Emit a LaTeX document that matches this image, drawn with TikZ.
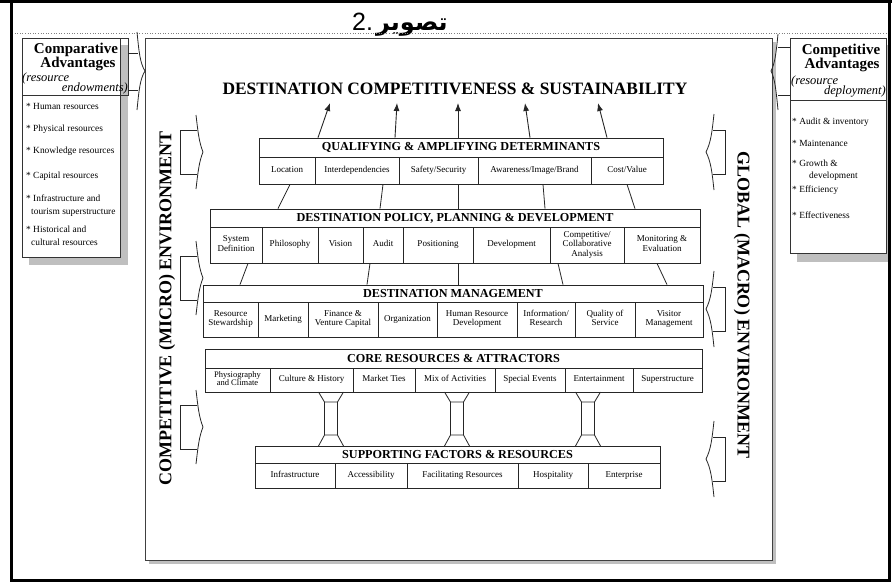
\documentclass[tikz,border=0pt]{standalone}
\usepackage{fontspec}
\setmainfont{Liberation Serif}
\newfontfamily\sansfnt{Liberation Sans}
\newfontfamily\arabicfnt[Script=Arabic]{DejaVu Sans}
\TeXXeTstate=1
\usetikzlibrary{arrows.meta}
\tikzset{
  cell/.style={draw=black!85, line width=0.8pt, inner sep=0pt, align=center, font=\fontsize{9}{9.5}\selectfont,
    execute at begin node=\strut, execute at end node=\strut},
  layerhead/.style={draw=black!85, line width=0.8pt, inner sep=0pt, font=\fontsize{12.2}{13}\selectfont\bfseries},
  envtext/.style={font=\fontsize{18}{18}\selectfont\bfseries},
  advhead/.style={inner sep=0pt, font=\fontsize{15}{15}\selectfont\bfseries},
  advnote/.style={inner sep=0pt, font=\fontsize{12.5}{12.5}\selectfont\itshape},
  advitem/.style={anchor=west, inner sep=0pt, align=left, font=\fontsize{9.4}{13}\selectfont},
  boxshadow/.style={fill=gray!50, draw=none},
  link/.style={black!85, line width=0.8pt},
  goal/.style={black!85, line width=0.9pt, -{Latex[length=8pt,width=6pt]}},
}

\begin{document}
\begin{tikzpicture}[x=1pt, y=-1pt]
  \useasboundingbox (0,0) rectangle (892,584);

  % caption line
  \node[anchor=base west, inner sep=0pt] (fig) at (352,30) {\sansfnt\fontsize{25}{25}\selectfont 2.\hspace{3pt}\arabicfnt\fontsize{24}{24}\selectfont\bfseries\beginR تصوير\endR};
  \draw[gray, dotted, line width=0.6pt] (12,33) -- (888,33);

  % side boxes
  \fill[boxshadow] (29,45) rectangle (128,265);
  \draw[fill=white, draw=black!80, line width=0.8pt] (22,38) rectangle (120,257);
  \draw[black!80, line width=0.8pt] (22,38) rectangle (128,95);
  \fill[boxshadow] (797,45) rectangle (889,262);
  \draw[fill=white, draw=black!80, line width=0.8pt] (790,38) rectangle (886,253);
  \draw[black!80, line width=0.8pt] (790,100) -- (886,100);

  \node[advhead] (cmpA) at (76,50) {Comparative};
  \node[advhead] (cmpB) at (78,64) {Advantages};
  \node[advnote, anchor=west] (cmpC) at (22,78) {(resource};
  \node[advnote, anchor=east] (cmpD) at (128,88.5) {endowments)};
  \node[advitem] (h1) at (26,106) {* Human resources};
  \node[advitem] (h2) at (26,129) {* Physical resources};
  \node[advitem] (h3) at (26,151) {* Knowledge resources};
  \node[advitem] (h4) at (26,176) {* Capital resources};
  \node[advitem] (h5) at (26,205.5) {* Infrastructure and\\\hspace{5pt}tourism superstructure};
  \node[advitem] (h6) at (26,235.5) {* Historical and\\\hspace{5pt}cultural resources};

  \node[advhead] (cpA) at (841,51) {Competitive};
  \node[advhead] (cpB) at (842,65) {Advantages};
  \node[advnote, anchor=west] (cpC) at (791,81) {(resource};
  \node[advnote, anchor=east] (cpD) at (886,92) {deployment)};
  \node[advitem] (d1) at (792,122) {* Audit \& inventory};
  \node[advitem] (d2) at (792,143) {* Maintenance};
  \node[advitem, font=\fontsize{9.4}{12}\selectfont] (d3) at (792,170) {* Growth \&\\\hspace{17pt}development};
  \node[advitem] (d4) at (792,190) {* Efficiency};
  \node[advitem] (d5) at (792,215) {* Effectiveness};

  % main panel
  \fill[boxshadow] (149,42) rectangle (776,564);
  \draw[fill=white, draw=black!75, line width=0.9pt] (145,38) rectangle (772,560);

  % side arrows into the panel
  \draw[link] (128,53) -- (137.5,53) (128,90) -- (137.5,90);
  \draw[link] (137,32) .. controls (139,52) and (140,63) .. (145,71) .. controls (140,79) and (139,90) .. (137,110);
  \draw[link] (790,47) -- (777.5,47) (790,95) -- (777.5,95);
  \draw[link] (778,34) .. controls (776,54) and (775,63) .. (771,71) .. controls (775,79) and (776,90) .. (778,110);

  % environment arrows
  \foreach \ym in {152,278,427} {
    \draw[link] (197,\ym-22) -- (180,\ym-22) -- (180,\ym+22) -- (197,\ym+22);
    \draw[link] (196,\ym-37) .. controls (198,\ym-20) and (199,\ym-10) .. (203,\ym) .. controls (199,\ym+10) and (198,\ym+20) .. (196,\ym+37);
  }
  \foreach \ym in {152,309,459} {
    \draw[link] (713,\ym-22) -- (725,\ym-22) -- (725,\ym+22) -- (713,\ym+22);
    \draw[link] (714,\ym-38) .. controls (712,\ym-20) and (711,\ym-10) .. (706,\ym) .. controls (711,\ym+10) and (712,\ym+20) .. (714,\ym+38);
  }
  \node[envtext, rotate=90] (micro) at (167,308) {COMPETITIVE (MICRO) ENVIRONMENT};
  \node[envtext, rotate=-90] (macro) at (742,305) {GLOBAL (MACRO) ENVIRONMENT};

  % title
  \node[anchor=base, inner sep=0pt, font=\fontsize{17.4}{18}\selectfont\bfseries] (title) at (455,94) {DESTINATION COMPETITIVENESS \& SUSTAINABILITY};

  % qualifying & amplifying determinants
  \node[layerhead, minimum width=404, minimum height=19] (qualhead) at (461,147.5) {QUALIFYING \& AMPLIFYING DETERMINANTS};
  \node[cell, minimum width=56, minimum height=27] (q1) at (287,170.5) {Location};
  \node[cell, minimum width=84, minimum height=27] (q2) at (357,170.5) {Interdependencies};
  \node[cell, minimum width=79, minimum height=27] (q3) at (438.5,170.5) {Safety/Security};
  \node[cell, minimum width=113, minimum height=27] (q4) at (534.5,170.5) {Awareness/Image/Brand};
  \node[cell, minimum width=72, minimum height=27] (q5) at (627,170.5) {Cost/Value};

  % destination policy, planning & development
  \node[layerhead, minimum width=490, minimum height=18] (polhead) at (455,218) {DESTINATION POLICY, PLANNING \& DEVELOPMENT};
  \node[cell, minimum width=52, minimum height=36] (p1) at (236,245) {System\\Definition};
  \node[cell, minimum width=56, minimum height=36] (p2) at (290,245) {Philosophy};
  \node[cell, minimum width=45, minimum height=36] (p3) at (340.5,245) {Vision};
  \node[cell, minimum width=40, minimum height=36] (p4) at (383,245) {Audit};
  \node[cell, minimum width=70, minimum height=36] (p5) at (438,245) {Positioning};
  \node[cell, minimum width=77, minimum height=36] (p6) at (511.5,245) {Development};
  \node[cell, minimum width=74, minimum height=36] (p7) at (587,245) {Competitive/\\Collaborative\\Analysis};
  \node[cell, minimum width=76, minimum height=36] (p8) at (662,245) {Monitoring \&\\Evaluation};

  % destination management
  \node[layerhead, minimum width=500, minimum height=17] (mgmthead) at (453,293.5) {DESTINATION MANAGEMENT};
  \begin{scope}[every node/.append style={font=\fontsize{9.8}{12}\selectfont}]
  \node[cell, minimum width=55, minimum height=35] (m1) at (230.5,319.5) {Resource\\Stewardship};
  \node[cell, minimum width=50, minimum height=35] (m2) at (283,319.5) {Marketing};
  \node[cell, minimum width=70, minimum height=35] (m3) at (343,319.5) {Finance \&\\Venture Capital};
  \node[cell, minimum width=59, minimum height=35] (m4) at (407.5,319.5) {Organization};
  \node[cell, minimum width=80, minimum height=35] (m5) at (477,319.5) {Human Resource\\Development};
  \node[cell, minimum width=58, minimum height=35] (m6) at (546,319.5) {Information/\\Research};
  \node[cell, minimum width=60, minimum height=35] (m7) at (605,319.5) {Quality of\\Service};
  \node[cell, minimum width=68, minimum height=35] (m8) at (669,319.5) {Visitor\\Management};
  \end{scope}

  % core resources & attractors
  \node[layerhead, minimum width=497, minimum height=19] (corehead) at (453.5,358.5) {CORE RESOURCES \& ATTRACTORS};
  \node[cell, minimum width=65, minimum height=24, font=\fontsize{8.5}{8.5}\selectfont] (c1) at (237.5,380) {Physiography\\and Climate};
  \node[cell, minimum width=83, minimum height=24] (c2) at (311.5,380) {Culture \& History};
  \node[cell, minimum width=62, minimum height=24] (c3) at (384,380) {Market Ties};
  \node[cell, minimum width=80, minimum height=24] (c4) at (455,380) {Mix of Activities};
  \node[cell, minimum width=70, minimum height=24] (c5) at (530,380) {Special Events};
  \node[cell, minimum width=68, minimum height=24] (c6) at (599,380) {Entertainment};
  \node[cell, minimum width=69, minimum height=24] (c7) at (667.5,380) {Superstructure};

  % supporting factors & resources
  \node[layerhead, minimum width=405, minimum height=17] (suphead) at (457.5,454.5) {SUPPORTING FACTORS \& RESOURCES};
  \node[cell, minimum width=80, minimum height=25] (s1) at (295,475.5) {Infrastructure};
  \node[cell, minimum width=72, minimum height=25] (s2) at (371,475.5) {Accessibility};
  \node[cell, minimum width=111, minimum height=25] (s3) at (462.5,475.5) {Facilitating Resources};
  \node[cell, minimum width=70, minimum height=25] (s4) at (553,475.5) {Hospitality};
  \node[cell, minimum width=72, minimum height=25] (s5) at (624,475.5) {Enterprise};

  % pillars
  \foreach \c in {331,457,588} {
    \draw[link] (\c-12.5,392) -- (\c-6.5,402) -- (\c+6.5,402) -- (\c+12.5,392);
    \draw[link] (\c-6.5,402) -- (\c-6.5,435) (\c+6.5,402) -- (\c+6.5,435);
    \draw[link] (\c-12.5,446) -- (\c-6.5,435) -- (\c+6.5,435) -- (\c+12.5,446);
  }

  % links between layers
  \draw[link] (290,0 |- q1.south) -- (278,0 |- polhead.north);
  \draw[link] (383,0 |- q1.south) -- (380,0 |- polhead.north);
  \draw[link] (458,0 |- q1.south) -- (458,0 |- polhead.north);
  \draw[link] (543,0 |- q1.south) -- (545,0 |- polhead.north);
  \draw[link] (627,0 |- q1.south) -- (635,0 |- polhead.north);
  \draw[link] (248,0 |- p1.south) -- (240,0 |- mgmthead.north);
  \draw[link] (370,0 |- p1.south) -- (367,0 |- mgmthead.north);
  \draw[link] (458,0 |- p1.south) -- (458,0 |- mgmthead.north);
  \draw[link] (558,0 |- p1.south) -- (563,0 |- mgmthead.north);
  \draw[link] (657,0 |- p1.south) -- (667,0 |- mgmthead.north);

  % arrows up to the goal
  \coordinate (tip1) at (330,103);
  \coordinate (tip2) at (397,103);
  \coordinate (tip3) at (458,103);
  \coordinate (tip4) at (525,103);
  \coordinate (tip5) at (598,103);
  \draw[goal] (318,0 |- qualhead.north) -- (tip1);
  \draw[goal] (395,0 |- qualhead.north) -- (tip2);
  \draw[goal] (458,0 |- qualhead.north) -- (tip3);
  \draw[goal] (530,0 |- qualhead.north) -- (tip4);
  \draw[goal] (607,0 |- qualhead.north) -- (tip5);

  % outer frame
  \draw[line width=3pt] (0,1.5) -- (892,1.5);
  \draw[line width=3pt] (11.5,0) -- (11.5,580) -- (889.5,580) -- (889.5,0);
\end{tikzpicture}
\end{document}
